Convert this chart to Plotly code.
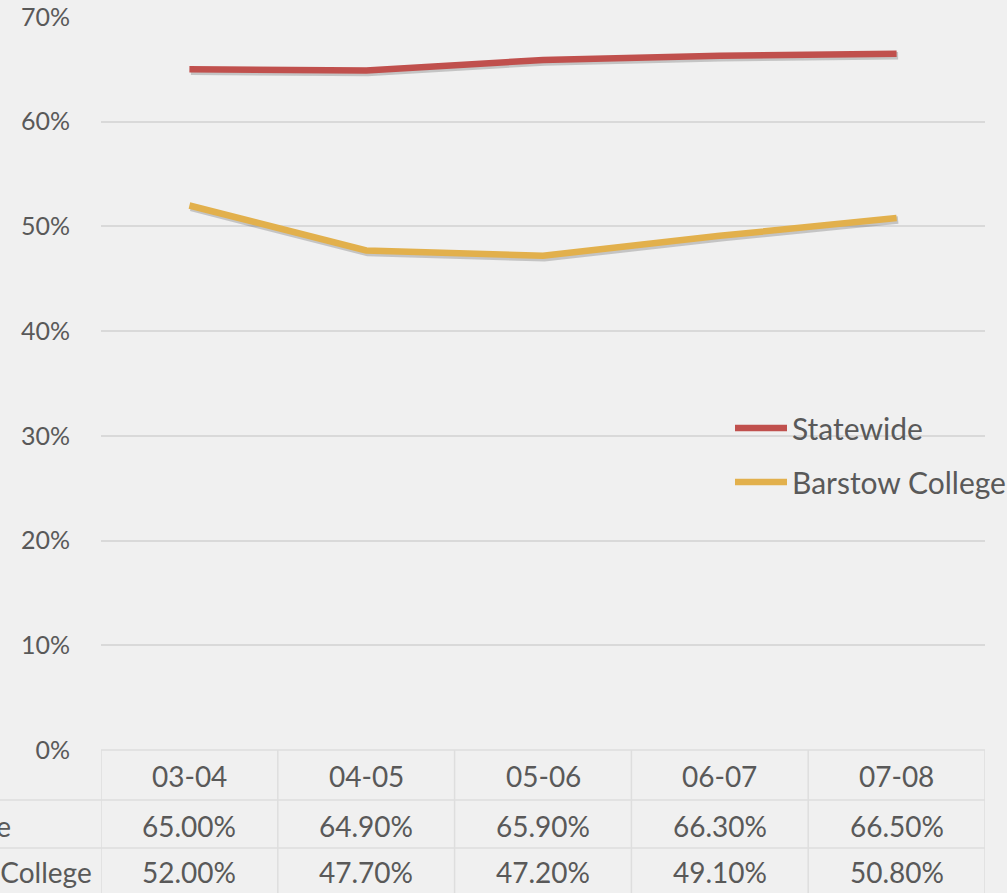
import plotly.graph_objects as go

categories = ["03-04", "04-05", "05-06", "06-07", "07-08"]
statewide = [65.0, 64.9, 65.9, 66.3, 66.5]
barstow = [52.0, 47.7, 47.2, 49.1, 50.8]
series_names = ["Statewide", "Barstow College"]
series_colors = ["#C0504D", "#E2B04C"]
y_ticks = [0, 10, 20, 30, 40, 50, 60, 70]

W, H = 1007, 893
L, R, T, B = 101, 22, 17, 143
ph = H - T - B  # plot height in px
pw = W - L - R


def py2paper(py):
    return (H - B - py) / ph


def px2paper(px):
    return (px - L) / pw


text_color = "#595959"
font_family = "Lato, 'Open Sans', sans-serif"
n = len(categories)

# soft drop-shadow: same data on overlay axes shifted by a couple of pixels
dy = 70 / ph * 2.0
dx = n / pw * 1.5

fig = go.Figure()
for name, vals in zip(series_names, [statewide, barstow]):
    fig.add_trace(go.Scatter(
        x=categories, y=vals, mode="lines", name=name + " shadow",
        xaxis="x2", yaxis="y2",
        line=dict(color="rgba(40,40,40,0.22)", width=7.5), showlegend=False,
        hoverinfo="skip"))
for name, vals, col in zip(series_names, [statewide, barstow], series_colors):
    fig.add_trace(go.Scatter(
        x=categories, y=vals, mode="lines", name=name,
        xaxis="x3", yaxis="y3",
        line=dict(color=col, width=6.5), showlegend=False, hoverinfo="x+y+name"))

shapes = []
annotations = []
grid_col = "#d9d9d9"

# Data table lines
row_lines = [H - B, 800, 848]
for i, yy in enumerate(row_lines):
    x0 = 0 if i > 0 else L
    shapes.append(dict(type="line", xref="paper", yref="paper",
                       x0=px2paper(x0), x1=1, y0=py2paper(yy), y1=py2paper(yy),
                       line=dict(color="#dedede", width=1.5)))
for k in range(n + 1):
    shapes.append(dict(type="line", xref="x", yref="paper",
                       x0=k - 0.5, x1=k - 0.5, y0=py2paper(H - B), y1=py2paper(H),
                       line=dict(color="#dedede", width=1.5)))

tf = dict(size=28, color=text_color)
# header and value cells
for i, c in enumerate(categories):
    annotations.append(dict(x=c, y=py2paper(776), xref="x", yref="paper", text=c,
                            yanchor="middle", showarrow=False, font=tf))
    annotations.append(dict(x=c, y=py2paper(826), xref="x", yref="paper",
                            text=f"{statewide[i]:.2f}%", yanchor="middle",
                            showarrow=False, font=tf))
    annotations.append(dict(x=c, y=py2paper(872), xref="x", yref="paper",
                            text=f"{barstow[i]:.2f}%", yanchor="middle",
                            showarrow=False, font=tf))
# row labels (partly cut off on the left, as in the reference)
for name, yy, xr in zip(series_names, [826, 872], [13, 94]):
    annotations.append(dict(x=px2paper(xr), y=py2paper(yy), xref="paper", yref="paper",
                            text=name, xanchor="right", yanchor="middle", showarrow=False,
                            font=tf))

# manual legend
for name, col, yy in zip(series_names, series_colors, [428, 482]):
    shapes.append(dict(type="line", xref="paper", yref="paper",
                       x0=px2paper(735), x1=px2paper(787), y0=py2paper(yy), y1=py2paper(yy),
                       line=dict(color=col, width=6.5)))
    annotations.append(dict(x=px2paper(790), y=py2paper(yy), xref="paper", yref="paper",
                            text=name, xanchor="left", yanchor="middle", showarrow=False,
                            font=dict(size=30, color=text_color)))

fig.update_layout(
    width=W, height=H,
    margin=dict(l=L, r=R, t=T, b=B, autoexpand=False),
    paper_bgcolor="#f0f0f0", plot_bgcolor="rgba(0,0,0,0)",
    font=dict(family=font_family, size=26, color=text_color),
    showlegend=False,
    shapes=shapes, annotations=annotations,
    xaxis=dict(type="category", categoryarray=categories, range=[-0.5, n - 0.5],
               showticklabels=False, showgrid=False,
               zeroline=False, showline=False, fixedrange=True, automargin=False),
    yaxis=dict(range=[0, 70], tickvals=y_ticks, ticktext=[f"{v}%" for v in y_ticks],
               showgrid=True, gridcolor=grid_col, gridwidth=1.5, zeroline=False,
               showline=False, ticklabelstandoff=30, automargin=False, fixedrange=True,
               tickfont=dict(size=25, color=text_color)),
    xaxis2=dict(type="category", categoryarray=categories, overlaying="x",
                range=[-0.5 - dx, n - 0.5 - dx], visible=False, fixedrange=True),
    yaxis2=dict(overlaying="y", range=[dy, 70 + dy], visible=False, fixedrange=True),
    xaxis3=dict(type="category", categoryarray=categories, overlaying="x",
                range=[-0.5, n - 0.5], visible=False, fixedrange=True),
    yaxis3=dict(overlaying="y", range=[0, 70], visible=False, fixedrange=True),
)

fig.write_html("out.html", config={"displayModeBar": False},
               post_script="document.body.style.margin='0';document.body.style.background='#f0f0f0';")
